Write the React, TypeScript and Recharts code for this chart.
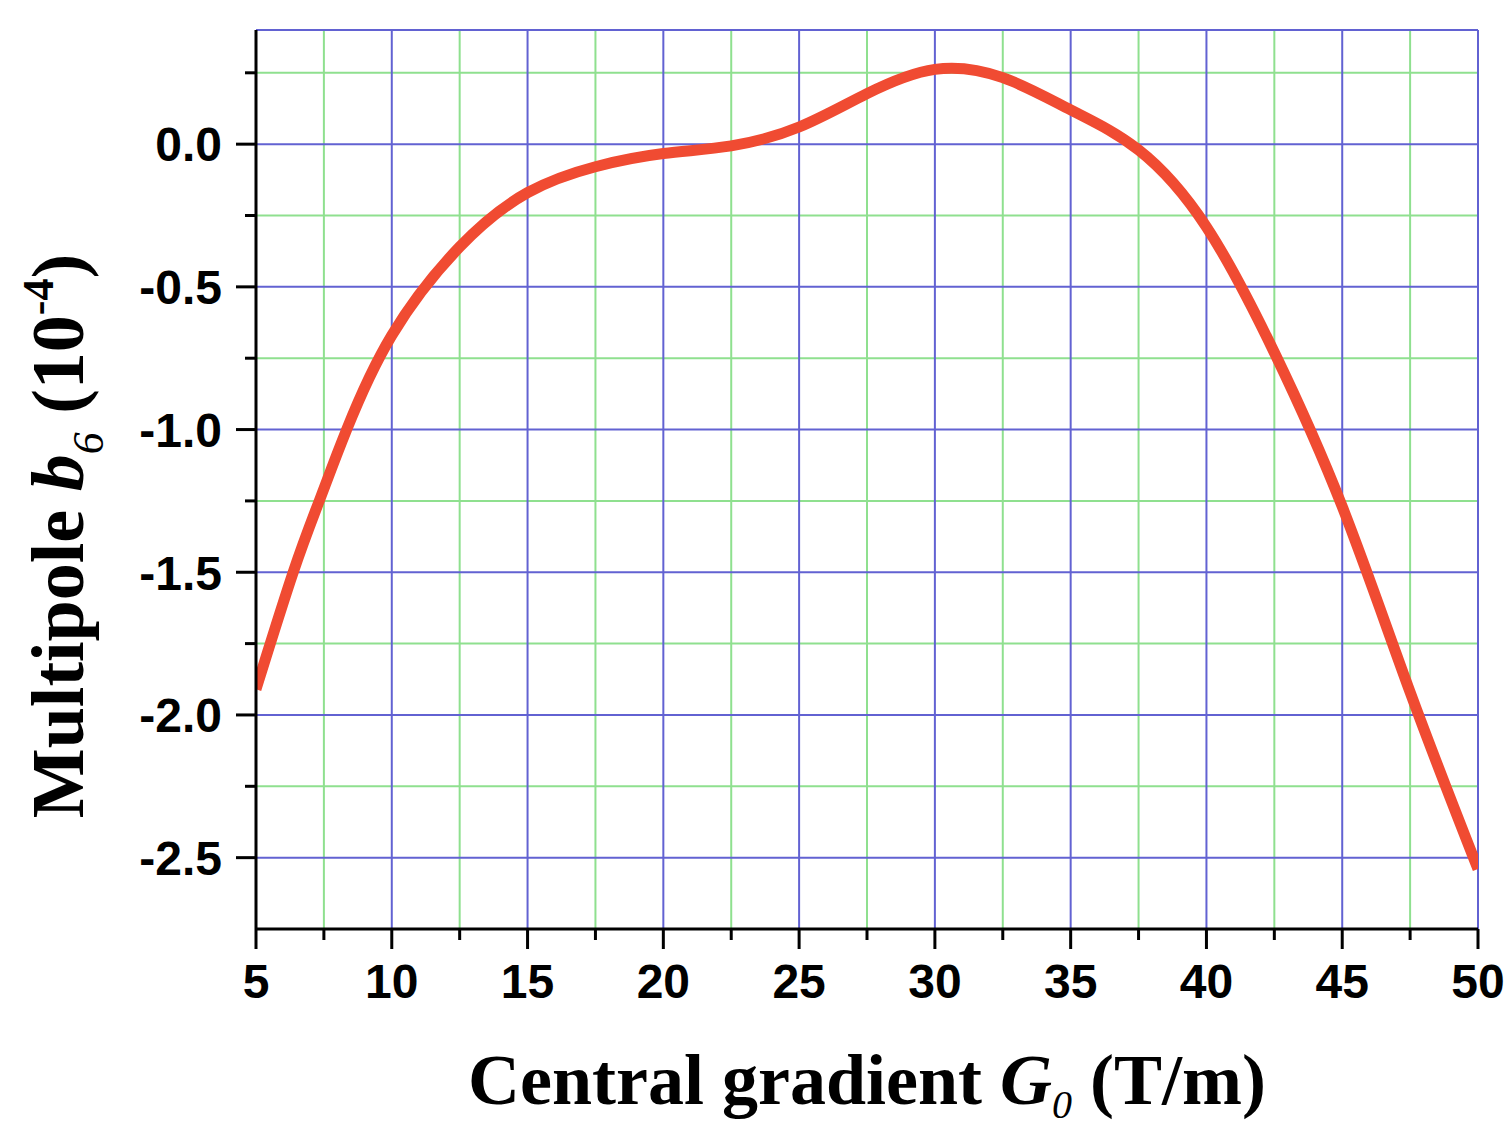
import React from 'react';
import { LineChart, Line, XAxis, YAxis, CartesianGrid, Label } from 'recharts';

const gradientG0 = [5, 6.37, 7.33, 8.34, 10, 12.5, 15, 17.5, 20, 22.5, 25, 27.5, 30, 32.5, 35, 37.5, 40, 42.5, 45, 47.5, 50];
const multipoleB6 = [-1.91, -1.5, -1.25, -1.0, -0.67, -0.36, -0.17, -0.079, -0.033, -0.006, 0.06, 0.177, 0.262, 0.233, 0.12, -0.02, -0.29, -0.73, -1.27, -1.92, -2.54];

const xMajorTicks = [5, 10, 15, 20, 25, 30, 35, 40, 45, 50];
const xMinorTicks = [7.5, 12.5, 17.5, 22.5, 27.5, 32.5, 37.5, 42.5, 47.5];
const yMajorTicks = [-2.5, -2.0, -1.5, -1.0, -0.5, 0.0];
const yMinorTicks = [-2.25, -1.75, -1.25, -0.75, -0.25, 0.25];
const xDomain = [5, 50];
const yDomain = [-2.75, 0.4];

const data = gradientG0.map((x, i) => ({ x, y: multipoleB6[i] }));
const xAllTicks = [...xMajorTicks, ...xMinorTicks].sort((a, b) => a - b);
const yAllTicks = [...yMajorTicks, ...yMinorTicks].sort((a, b) => a - b);

const isMajorX = (v: number) => xMajorTicks.includes(v);
const isMajorY = (v: number) => yMajorTicks.includes(v);

const tickFont = '"Liberation Sans", Arial, sans-serif';
const titleFont = '"Liberation Serif", "Times New Roman", serif';
const MAJOR = 20;
const MINOR = 11;

const BottomTick = (props: any) => {
  const { x, y, payload } = props;
  const major = isMajorX(payload.value);
  return (
    <g>
      <line x1={x} y1={y} x2={x} y2={y + (major ? MAJOR : MINOR)} stroke="#000" strokeWidth={3} />
      {major && (
        <text x={x} y={y + 69} textAnchor="middle" fontFamily={tickFont} fontWeight="bold" fontSize={48} fill="#000">
          {payload.value}
        </text>
      )}
    </g>
  );
};

const TopTick = (props: any) => {
  const { x, y, payload } = props;
  const major = isMajorX(payload.value);
  return <line x1={x} y1={y} x2={x} y2={y - (major ? MAJOR : MINOR)} stroke="#000" strokeWidth={3} />;
};

const LeftTick = (props: any) => {
  const { x, y, payload } = props;
  const major = isMajorY(payload.value);
  return (
    <g>
      <line x1={x} y1={y} x2={x - (major ? MAJOR : MINOR)} y2={y} stroke="#000" strokeWidth={3} />
      {major && (
        <text x={x - 34} y={y} dy="0.36em" textAnchor="end" fontFamily={tickFont} fontWeight="bold" fontSize={48} fill="#000">
          {payload.value.toFixed(1)}
        </text>
      )}
    </g>
  );
};

const RightTick = (props: any) => {
  const { x, y, payload } = props;
  const major = isMajorY(payload.value);
  return <line x1={x} y1={y} x2={x + (major ? MAJOR : MINOR)} y2={y} stroke="#000" strokeWidth={3} />;
};

const XTitle = () => (
  <text x={867} y={1104} textAnchor="middle" fontFamily={titleFont} fontWeight="bold" fontSize={72} fill="#000">
    Central gradient{' '}
    <tspan fontStyle="italic">G</tspan>
    <tspan fontStyle="italic" fontWeight="normal" fontSize={40} dy={14}>0</tspan>
    <tspan dy={-14}> (T/m)</tspan>
  </text>
);

const YTitle = () => (
  <text x={83} y={536} transform="rotate(-90, 83, 536)" textAnchor="middle" fontFamily={titleFont} fontWeight="bold" fontSize={74} fill="#000">
    Multipole{' '}
    <tspan fontStyle="italic">b</tspan>
    <tspan fontStyle="italic" fontWeight="normal" fontSize={44} dy={20}>6</tspan>
    <tspan dy={-20}> (10</tspan>
    <tspan fontSize={44} dy={-30}>-4</tspan>
    <tspan dy={30}>)</tspan>
  </text>
);

export default function App() {
  return (
    <div style={{ position: 'absolute', left: 0, top: 0, width: 1511, height: 1133, background: '#fff' }}>
      <LineChart width={1511} height={1133} data={data} margin={{ top: 30, right: 33, bottom: 104, left: 0 }}>
        <XAxis xAxisId="minor" type="number" dataKey="x" domain={xDomain} ticks={xMinorTicks} allowDataOverflow hide />
        <YAxis yAxisId="minor" type="number" domain={yDomain} ticks={yMinorTicks} allowDataOverflow hide />
        <XAxis xAxisId="major" type="number" dataKey="x" domain={xDomain} ticks={xMajorTicks} allowDataOverflow hide />
        <YAxis yAxisId="major" type="number" domain={yDomain} ticks={yMajorTicks} allowDataOverflow hide />
        <CartesianGrid xAxisId="minor" yAxisId="minor" stroke="#8fe08f" strokeWidth={2} />
        <CartesianGrid xAxisId="major" yAxisId="major" stroke="#6262d2" strokeWidth={2} />
        <XAxis
          xAxisId={0}
          type="number"
          dataKey="x"
          domain={xDomain}
          ticks={xAllTicks}
          interval={0}
          allowDataOverflow
          height={100}
          tickSize={0}
          tickMargin={0}
          tickLine={false}
          axisLine={{ stroke: '#000', strokeWidth: 3 }}
          tick={<BottomTick />}
        >
          <Label content={<XTitle />} />
        </XAxis>
        <YAxis
          yAxisId={0}
          type="number"
          domain={yDomain}
          ticks={yAllTicks}
          interval={0}
          allowDataOverflow
          width={256}
          tickSize={0}
          tickMargin={0}
          tickLine={false}
          axisLine={{ stroke: '#000', strokeWidth: 3 }}
          tick={<LeftTick />}
        >
          <Label content={<YTitle />} />
        </YAxis>
        <XAxis
          xAxisId="top"
          orientation="top"
          type="number"
          dataKey="x"
          domain={xDomain}
          ticks={xAllTicks}
          interval={0}
          allowDataOverflow
          height={0}
          tickSize={0}
          tickMargin={0}
          tickLine={false}
          axisLine={{ stroke: '#000', strokeWidth: 3 }}
          tick={<TopTick />}
        />
        <YAxis
          yAxisId="right"
          orientation="right"
          type="number"
          domain={yDomain}
          ticks={yAllTicks}
          interval={0}
          allowDataOverflow
          width={0}
          tickSize={0}
          tickMargin={0}
          tickLine={false}
          axisLine={{ stroke: '#000', strokeWidth: 3 }}
          tick={<RightTick />}
        />
        <Line
          xAxisId={0}
          yAxisId={0}
          type="natural"
          dataKey="y"
          stroke="#f04b32"
          strokeWidth={11}
          dot={false}
          isAnimationActive={false}
        />
      </LineChart>
    </div>
  );
}
